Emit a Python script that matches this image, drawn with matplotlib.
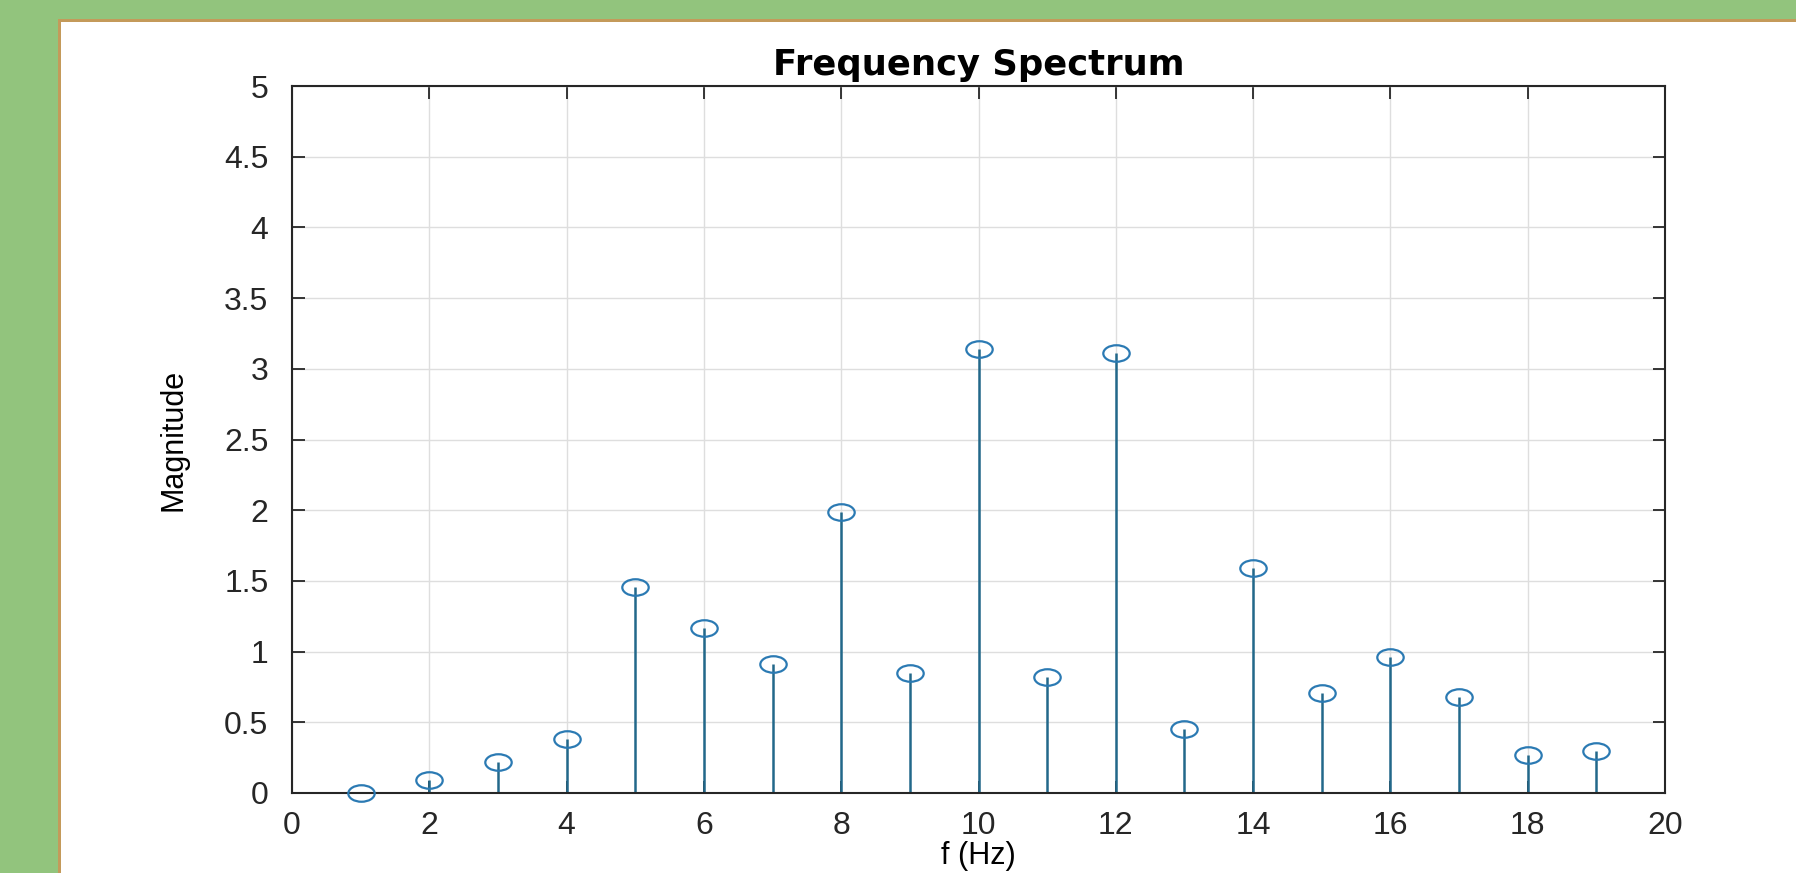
import matplotlib
matplotlib.use("Agg")
import matplotlib.pyplot as plt
from matplotlib.path import Path
from matplotlib.patches import Rectangle
from matplotlib.transforms import Affine2D

# spectrum values
freqs = [1, 2, 3, 4, 5, 6, 7, 8, 9, 10, 11, 12, 13, 14, 15, 16, 17, 18, 19]
mags = [0.0, 0.09, 0.22, 0.38, 1.46, 1.17, 0.91, 1.99, 0.85, 3.14,
        0.82, 3.11, 0.45, 1.59, 0.71, 0.96, 0.68, 0.27, 0.30]
xticks = [0, 2, 4, 6, 8, 10, 12, 14, 16, 18, 20]
yticks = [0, 0.5, 1, 1.5, 2, 2.5, 3, 3.5, 4, 4.5, 5]
ytick_labels = ["0", "0.5", "1", "1.5", "2", "2.5", "3", "3.5", "4", "4.5", "5"]

plt.rcParams["font.family"] = ["Liberation Sans", "DejaVu Sans"]

W, H = 1796, 873
fig = plt.figure(figsize=(W / 100, H / 100), dpi=100)
fig.patch.set_facecolor("white")

# green frame on the top and left, with a thin tan edge
green, tan = "#92c47d", "#c49a5a"
fig.patches.append(Rectangle((0, 0), 58 / W, 1, transform=fig.transFigure,
                             facecolor=green, edgecolor="none", zorder=0))
fig.patches.append(Rectangle((0, 1 - 19 / H), 1, 19 / H, transform=fig.transFigure,
                             facecolor=green, edgecolor="none", zorder=0))
fig.patches.append(Rectangle((58 / W, 0), 2.5 / W, 1 - 19 / H, transform=fig.transFigure,
                             facecolor=tan, edgecolor="none", zorder=1))
fig.patches.append(Rectangle((58 / W, 1 - 21.5 / H), 1 - 58 / W, 2.5 / H,
                             transform=fig.transFigure,
                             facecolor=tan, edgecolor="none", zorder=1))

ax = fig.add_axes([292 / W, 80 / H, (1665 - 292) / W, (787 - 80) / H])

# the reference is stretched sideways, so the circles are ellipses
ellipse = Path.unit_circle().transformed(Affine2D().scale(1.6, 1.0))

stem_col, mark_col = "#22688a", "#2b7ab3"
markers, stems, base = ax.stem(freqs, mags, basefmt=" ")
stems.set_color(stem_col)
stems.set_linewidth(1.8)
markers.set_marker(ellipse)
markers.set_markersize(19)
markers.set_markerfacecolor("none")
markers.set_markeredgecolor(mark_col)
markers.set_markeredgewidth(1.6)
markers.set_clip_on(False)
markers.set_zorder(4)

ax.set_xlim(0, 20)
ax.set_ylim(0, 5)
ax.set_xticks(xticks)
ax.set_yticks(yticks)
ax.set_yticklabels(ytick_labels)
ax.grid(True, color="#dedede", linewidth=1.0)
ax.set_axisbelow(True)

for sp in ax.spines.values():
    sp.set_color("#262626")
    sp.set_linewidth(1.5)
ax.tick_params(direction="in", length=9, width=1.3, colors="#262626",
               labelsize=23, top=True, right=True)
ax.tick_params(axis="x", pad=13)
ax.tick_params(axis="y", pad=17)

ax.set_title("Frequency Spectrum", fontsize=25.5, fontweight="bold",
             family=["DejaVu Sans"], pad=8)
ax.set_ylabel("Magnitude", fontsize=22)
ax.set_xlabel("f (Hz)", fontsize=22)
ax.yaxis.set_label_coords(-0.0757, 0.5)
# the reference crops this label at the bottom edge; keep it just inside
ax.xaxis.set_label_coords(0.5, -0.068)

fig.savefig("out.png", dpi=100)
